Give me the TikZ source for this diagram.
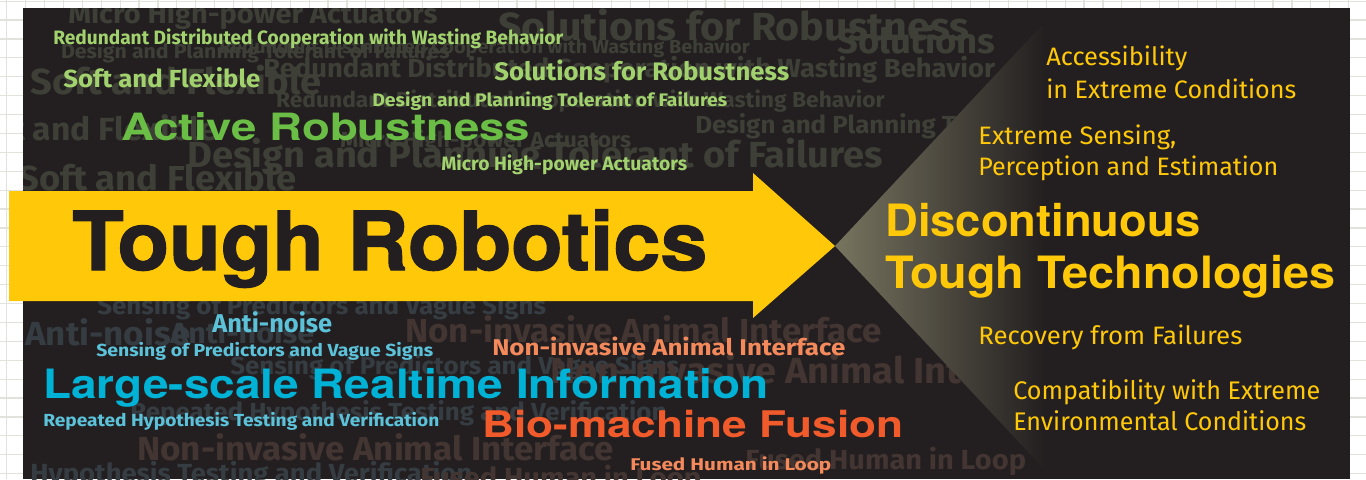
\documentclass[tikz,border=0pt]{standalone}
\usepackage{fontspec}
\usepackage{graphicx}
\newfontfamily\dinfont[FakeStretch=0.86]{Fira Sans}
\newfontfamily\bgfont[FakeStretch=1.05]{Fira Sans}
\newfontfamily\helvfont{TeX Gyre Heros}
\newfontfamily\heavyfont[BoldFeatures={FakeBold=1.5}]{TeX Gyre Heros}
\newlength\pxu
\setlength\pxu{0.75pt}
\newcommand\fs[1]{\fontsize{#1}{#1}\selectfont}
\newcommand\fitw[2]{\resizebox{#1\pxu}{\height}{#2}}
\definecolor{panel}{HTML}{231F20}
\definecolor{gridgray}{HTML}{E2E2DC}
\definecolor{tyellow}{HTML}{FFC808}
\definecolor{wedgegray}{HTML}{77745F}
\definecolor{lgreen}{HTML}{A2D26E}
\definecolor{dgreen}{HTML}{6ABD45}
\definecolor{lcyan}{HTML}{5BC2DA}
\definecolor{dcyan}{HTML}{00B3D6}
\definecolor{lorange}{HTML}{F48A5C}
\definecolor{dorange}{HTML}{F15A2A}
\definecolor{fadegreen}{HTML}{3E4037}
\definecolor{fadeblue}{HTML}{363D42}
\definecolor{fadebrown}{HTML}{433531}
\begin{document}
\begin{tikzpicture}[x=0.75pt, y=-0.75pt,
		gridline/.style={gridgray, line width=0.9pt},
		bgtext/.style={anchor=base west, inner sep=0pt, font=\bgfont\bfseries},
		lbl/.style={anchor=base west, inner sep=0pt, font=\dinfont\bfseries},
		headline/.style={anchor=base west, inner sep=0pt, font=\helvfont\bfseries},
		goal/.style={anchor=base west, inner sep=0pt, font=\dinfont, text=tyellow}]

			\useasboundingbox (0, 0) rectangle (1366, 479);
			\fill[white] (0, 0) rectangle (1366, 479);
			\foreach \i in {0,...,72}
				\draw[gridline] (6.7 + 18.9*\i, 0) -- (6.7 + 18.9*\i, 479);
			\foreach \j in {0,...,25}
				\draw[gridline] (0, 1.1 + 18.9*\j) -- (1366, 1.1 + 18.9*\j);

			\fill[panel] (23, 8) rectangle (1349.5, 479);

			\begin{scope}
				\clip (23, 8) -- (1058, 8) -- (835, 246) -- (1053, 479) -- (23, 479) -- cycle;
				\node[bgtext, text=fadegreen] (bgmicroa) at (68, 23) {\fs{20.7}Micro High-power Actuators};
				\node[bgtext, text=fadegreen] (bgsola) at (498, 40) {\fs{29.4}Solutions for Robustness};
				\node[bgtext, text=fadegreen] (bgsolb) at (837, 53) {\fs{26}Solutions};
				\node[bgtext, text=fadegreen, anchor=base east] (bgdesa) at (450, 58) {\fs{15.2}Design and Planning Tolerant of Failures};
				\node[bgtext, text=fadegreen, anchor=base east] (bgreda) at (750, 53) {\fs{14.2}Redundant Distributed Cooperation with Wasting Behavior};
				\node[bgtext, text=fadegreen] (bgredb) at (263, 77) {\fs{19.6}Redundant Distributed Cooperation with Wasting Behavior};
				\node[bgtext, text=fadegreen] (bgsofta) at (30, 94) {\fs{27.2}Soft and Flexible};
				\node[bgtext, text=fadegreen, anchor=base east] (bgredc) at (885, 107) {\fs{16.3}Redundant Distributed Cooperation with Wasting Behavior};
				\node[bgtext, text=fadegreen] (bgsoftb) at (-39, 140) {\fs{24}Soft and Flexible};
				\node[bgtext, text=fadegreen] (bgdesb) at (695, 133) {\fs{18.5}Design and Planning Tolerant of Failures};
				\node[bgtext, text=fadegreen] (bgmicrob) at (340, 147) {\fs{16.3}Micro High-power Actuators};
				\node[bgtext, text=fadegreen] (bgdesc) at (187, 167) {\fs{27.2}Design and Planning Tolerant of Failures};
				\node[bgtext, text=fadegreen] (bgsoftc) at (18, 190) {\fs{26}Soft and Flexible};

				\node[bgtext, text=fadeblue] (bgsensa) at (97, 314) {\fs{18.5}Sensing of Predictors and Vague Signs};
				\node[bgtext, text=fadeblue] (bganta) at (25, 345) {\fs{25}Anti-noise};
				\node[bgtext, text=fadeblue] (bgantb) at (170, 343) {\fs{21.8}Anti-noise};
				\node[bgtext, text=fadeblue] (bgsensb) at (230, 374) {\fs{18.5}Sensing of Predictors and Vague Signs};
				\node[bgtext, text=fadeblue] (bgrepa) at (130, 420) {\fs{18.5}Repeated Hypothesis Testing and Verification};
				\node[bgtext, text=fadeblue] (bgrepb) at (30, 482) {\fs{19.6}Hypothesis Testing and Verification};

				\node[bgtext, text=fadebrown] (bgnona) at (405, 342) {\fs{25}Non-invasive Animal Interface};
				\node[bgtext, text=fadebrown] (bgnonb) at (550, 383) {\fs{27.2}Non-invasive Animal Interface};
				\node[bgtext, text=fadebrown] (bgnonc) at (137, 460) {\fs{25}Non-invasive Animal Interface};
				\node[bgtext, text=fadebrown] (bgfusa) at (745, 469) {\fs{20.7}Fused Human in Loop};
				\node[bgtext, text=fadebrown] (bgfusb) at (420, 487) {\fs{20.7}Fused Human in Loop};
			\end{scope}

			\fill[panel] (320, 169) rectangle (753, 191);
			\fill[tyellow] (9, 191) -- (753, 191) -- (753, 173) -- (835, 246)
				-- (753, 318) -- (753, 301) -- (9, 301) -- cycle;
			\shade[left color=wedgegray, right color=panel] (835, 246) -- (1045, 22) -- (1045, 470) -- cycle;

			\node[lbl, text=lgreen] (redund) at (53, 44) {\fs{14.5}\fitw{510}{Redundant Distributed Cooperation with Wasting Behavior}};
			\node[lbl, text=lgreen] (soft) at (63, 87) {\fs{18.5}\fitw{197}{Soft and Flexible}};
			\node[lbl, text=lgreen] (solut) at (494, 80.5) {\fs{19}\fitw{295}{Solutions for Robustness}};
			\node[lbl, text=lgreen] (design) at (372, 106.5) {\fs{13.6}\fitw{355}{Design and Planning Tolerant of Failures}};
			\node[headline, text=dgreen] (active) at (121, 140) {\fs{28.2}\fitw{409}{Active Robustness}};
			\node[lbl, text=lgreen] (micro) at (441, 170) {\fs{14.5}\fitw{246}{Micro High-power Actuators}};

			\node[anchor=base west, inner sep=0pt, font=\heavyfont\bfseries, text=panel] (tough) at (72, 270) {\fs{61}\fitw{635}{Tough Robotics}};

			\node[lbl, text=lcyan] (anti) at (212, 332.5) {\fs{19.3}\fitw{120}{Anti-noise}};
			\node[lbl, text=lcyan] (sensing) at (96, 356.5) {\fs{13.1}\fitw{337}{Sensing of Predictors and Vague Signs}};
			\node[headline, text=dcyan] (large) at (43, 398.3) {\fs{30.3}\fitw{725}{Large-scale Realtime Information}};
			\node[lbl, text=lcyan] (repeat) at (43, 426.5) {\fs{13.1}\fitw{396}{Repeated Hypothesis Testing and Verification}};

			\node[lbl, text=lorange] (animal) at (492, 355) {\fs{17.1}\fitw{353}{Non-invasive Animal Interface}};
			\node[headline, text=dorange] (bio) at (482, 437.3) {\fs{27.5}\fitw{421}{Bio-machine Fusion}};
			\node[lbl, text=lorange] (fused) at (630, 470) {\fs{12.7}\fitw{201}{Fused Human in Loop}};

			\node[goal] (accessa) at (1046, 65.7) {\fs{18.9}\fitw{141}{Accessibility}};
			\node[goal] (accessb) at (1046, 98.3) {\fs{18.9}\fitw{250}{in Extreme Conditions}};
			\node[goal] (sensea) at (978, 144) {\fs{18.9}\fitw{198}{Extreme Sensing,}};
			\node[goal] (senseb) at (978, 175.7) {\fs{18.9}\fitw{300}{Perception and Estimation}};
			\node[headline, text=tyellow] (discona) at (885, 236.7) {\fs{33.4}\fitw{315}{Discontinuous}};
			\node[headline, text=tyellow] (disconb) at (885, 288.3) {\fs{33.4}\fitw{450}{Tough Technologies}};
			\node[goal] (recover) at (978, 344) {\fs{18.9}\fitw{264}{Recovery from Failures}};
			\node[goal] (compata) at (1013, 399.3) {\fs{19.1}\fitw{307}{Compatibility with Extreme}};
			\node[goal] (compatb) at (1013, 430.7) {\fs{19.1}\fitw{293}{Environmental Conditions}};
		\end{tikzpicture}
\end{document}
